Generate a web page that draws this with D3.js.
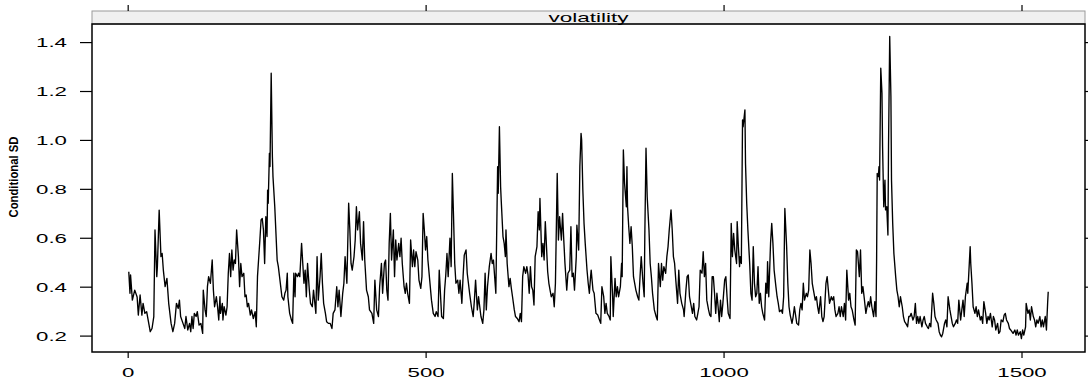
<!DOCTYPE html>
<html>
<head>
<meta charset="utf-8">
<script src="https://cdn.jsdelivr.net/npm/d3@7"></script>
<style>
  body { margin: 0; background: #fff; }
  text { font-family: "Liberation Sans", Arial, Helvetica, sans-serif; fill: #000; }
</style>
</head>
<body>
<div id="chart"></div>
<script>
var obs = [1,3,4,7,11,15,17,20,23,25,28,31,34,37,40,43,45,48,49,52,55,57,59,62,65,68,72,75,78,81,84,86,88,92,95,97,100,103,105,107,109,111,114,116,119,122,125,126,129,131,133,135,138,141,143,145,148,150,152,154,155,158,159,161,164,166,168,170,172,174,176,178,180,182,185,187,189,191,194,196,198,200,202,205,207,210,213,215,217,219,221,223,225,227,229,231,233,234,235,237,238,240,242,243,246,248,250,252,254,256,258,261,263,265,267,268,271,274,276,278,280,281,284,286,288,291,293,295,297,299,301,304,306,309,311,
  315,317,319,322,324,326,328,331,333,336,339,342,344,347,350,352,354,357,360,362,364,367,370,372,374,376,379,381,383,385,388,390,393,395,397,400,403,405,409,412,414,417,420,422,425,427,430,432,434,436,438,440,442,445,447,449,451,454,456,458,460,463,465,467,469,472,474,477,479,481,483,486,488,491,493,495,497,499,501,503,506,509,512,515,517,520,522,524,526,529,531,533,535,537,540,542,544,546,548,550,553,555,557,560,562,564,567,569,571,573,576,579,581,583,586,588,590,592,595,597,599,601,603,606,609,611,613,
  617,620,621,623,625,626,629,631,633,634,636,639,641,643,645,648,650,653,656,658,660,662,664,667,669,671,673,675,677,679,681,683,686,688,690,691,694,696,698,700,702,704,706,708,710,713,715,717,720,722,724,727,729,731,733,736,738,741,743,745,747,749,752,753,756,758,760,761,763,765,767,770,772,774,776,777,780,782,785,788,790,793,795,798,800,802,804,807,809,810,813,814,817,819,821,823,826,828,829,831,833,836,837,838,840,842,844,846,848,850,852,855,857,859,861,864,866,867,869,871,874,876,878,880,883,886,888,890,893,895,897,899,902,904,906,908,911,913,915,917,919,922,924,926,929,932,
  933,936,938,940,942,945,947,949,951,954,956,958,960,963,965,967,969,971,974,976,978,980,982,984,986,988,990,992,994,996,998,1001,1003,1005,1007,1010,1012,1014,1016,1018,1021,1022,1024,1026,1027,1029,1031,1032,1035,1036,1038,1040,1043,1045,1047,1049,1051,1053,1055,1057,1059,1061,1063,1065,1068,1070,1072,1073,1075,1078,1080,1082,1084,1087,1089,1091,1093,1096,1098,1100,1102,1105,1107,1109,1111,1114,1116,1118,1120,1122,1125,1127,1129,1131,1133,1135,1138,1140,1142,1144,1146,1148,1150,1153,1155,1157,1159,1162,1164,1166,1168,1171,1173,1175,1177,1180,1182,1184,1186,1188,1191,1193,1195,1197,1200,1202,1204,1206,1209,1211,1213,1215,1218,1220,1222,1224,1227,1229,1231,1233,1235,1238,1240,1242,
  1244,1246,1248,1251,1253,1255,1256,1257,1259,1260,1261,1263,1265,1266,1268,1270,1271,1273,1275,1276,1278,1280,1281,1283,1285,1288,1290,1292,1294,1296,1299,1301,1303,1305,1308,1310,1312,1314,1317,1319,1321,1323,1325,1327,1329,1332,1334,1336,1338,1341,1343,1345,1347,1350,1352,1354,1356,1359,1361,1363,1365,1367,1370,1372,1374,1376,1379,1381,1383,1385,1388,1390,1392,1394,1397,1399,1401,1403,1405,1408,1409,1411,1413,1414,1416,1418,1421,1423,1425,1427,1430,1432,1434,1436,1439,1441,1443,1445,1447,1450,1452,1454,1456,1459,1461,1463,1465,1468,1470,1472,1474,1477,1479,1481,1483,1485,1488,1490,1492,1494,1497,1499,1501,1503,1506,1507,1510,1512,1514,1516,1519,1521,1523,1525,1527,1530,1532,1534,1536,1539,1541,1543,1544];

var condSD = [0.463,0.375,0.45,0.347,0.388,0.36,0.286,0.368,0.286,0.334,0.293,0.30,0.259,0.218,0.231,0.28,0.634,0.443,0.484,0.715,0.525,0.538,0.47,0.402,0.436,0.334,0.252,0.218,0.252,0.334,0.313,0.347,0.28,0.252,0.231,0.28,0.225,0.252,0.218,0.28,0.231,0.293,0.28,0.30,0.245,0.252,0.211,0.388,0.307,0.28,0.402,0.443,0.416,0.511,0.388,0.32,0.361,0.32,0.266,0.361,0.293,0.334,0.266,0.32,0.286,0.32,0.457,0.538,0.443,0.552,0.47,0.511,0.497,0.634,0.525,0.402,0.497,0.443,0.457,0.361,0.368,0.32,0.334,0.286,0.307,0.272,0.30,0.238,0.443,0.518,0.593,0.675,0.681,0.634,0.497,0.688,0.607,0.797,0.743,0.947,0.893,1.275,0.934,0.852,0.729,0.62,0.511,0.484,0.443,0.402,0.361,0.347,0.375,0.388,0.457,0.361,0.293,0.266,0.252,0.457,0.361,0.457,0.443,0.457,0.443,0.579,0.497,0.416,0.47,0.361,0.497,0.388,0.334,0.32,0.388,
  0.293,0.525,0.347,0.443,0.538,0.416,0.334,0.293,0.259,0.252,0.252,0.231,0.293,0.307,0.402,0.32,0.388,0.28,0.375,0.416,0.525,0.416,0.743,0.634,0.497,0.47,0.525,0.593,0.729,0.634,0.709,0.579,0.511,0.668,0.511,0.388,0.361,0.307,0.293,0.252,0.429,0.307,0.28,0.402,0.497,0.375,0.497,0.511,0.388,0.347,0.579,0.702,0.511,0.634,0.443,0.593,0.511,0.579,0.525,0.60,0.497,0.402,0.375,0.416,0.375,0.334,0.593,0.484,0.552,0.484,0.545,0.511,0.429,0.395,0.443,0.702,0.634,0.552,0.607,0.511,0.429,0.347,0.293,0.28,0.30,0.28,0.47,0.375,0.28,0.272,0.388,0.45,0.538,0.443,0.60,0.484,0.865,0.688,0.497,0.416,0.429,0.375,0.429,0.334,0.443,0.531,0.552,0.457,0.416,0.375,0.32,0.28,0.347,0.429,0.307,0.361,0.32,0.28,0.252,0.307,0.457,0.307,0.402,0.484,0.538,0.497,0.511,
  0.375,0.893,0.784,1.056,0.811,0.756,0.607,0.579,0.525,0.634,0.497,0.402,0.436,0.395,0.361,0.307,0.28,0.272,0.259,0.293,0.259,0.443,0.484,0.457,0.484,0.45,0.375,0.484,0.402,0.388,0.327,0.525,0.566,0.709,0.634,0.763,0.525,0.579,0.511,0.668,0.566,0.463,0.416,0.388,0.361,0.375,0.32,0.416,0.865,0.593,0.688,0.593,0.702,0.593,0.497,0.388,0.457,0.47,0.647,0.443,0.457,0.388,0.525,0.654,0.552,0.893,1.029,1.002,0.797,0.661,0.579,0.47,0.416,0.375,0.443,0.47,0.388,0.375,0.293,0.286,0.272,0.252,0.402,0.361,0.293,0.334,0.293,0.28,0.266,0.525,0.361,0.28,0.436,0.361,0.402,0.361,0.402,0.497,0.443,0.961,0.825,0.729,0.893,0.729,0.647,0.579,0.647,0.566,0.443,0.416,0.388,0.361,0.347,0.443,0.525,0.416,0.361,0.607,0.968,0.77,0.634,0.497,0.443,0.375,0.307,0.28,0.266,0.497,0.402,0.497,0.429,0.484,0.457,0.525,0.566,0.634,0.716,0.634,0.525,0.497,0.429,0.334,0.47,0.375,0.334,0.307,
  0.28,0.388,0.443,0.45,0.361,0.32,0.293,0.334,0.28,0.266,0.293,0.32,0.47,0.457,0.545,0.443,0.497,0.347,0.307,0.286,0.28,0.443,0.443,0.375,0.293,0.375,0.32,0.259,0.347,0.28,0.334,0.429,0.443,0.361,0.293,0.272,0.661,0.525,0.62,0.552,0.497,0.668,0.566,0.484,0.525,0.497,1.084,1.056,1.125,0.906,0.743,0.634,0.497,0.375,0.347,0.566,0.416,0.361,0.375,0.484,0.334,0.375,0.32,0.293,0.266,0.416,0.375,0.504,0.361,0.579,0.661,0.579,0.47,0.402,0.361,0.334,0.30,0.307,0.293,0.361,0.722,0.566,0.416,0.32,0.286,0.252,0.28,0.32,0.286,0.252,0.245,0.307,0.334,0.307,0.416,0.347,0.375,0.361,0.388,0.552,0.497,0.416,0.388,0.347,0.361,0.32,0.293,0.361,0.28,0.259,0.28,0.416,0.443,0.388,0.334,0.361,0.347,0.361,0.307,0.28,0.293,0.32,0.28,0.32,0.28,0.334,0.266,0.47,0.347,0.375,0.32,0.307,0.266,0.245,0.552,0.545,0.443,0.552,0.375,0.402,0.361,0.293,0.32,0.341,
  0.32,0.361,0.32,0.28,0.341,0.28,0.511,0.865,0.852,0.893,0.838,1.295,1.193,0.975,0.729,0.838,0.716,0.729,0.613,0.975,1.425,1.18,0.838,0.661,0.538,0.443,0.388,0.361,0.32,0.361,0.32,0.28,0.259,0.252,0.238,0.28,0.28,0.293,0.266,0.28,0.334,0.252,0.28,0.252,0.28,0.238,0.266,0.28,0.252,0.238,0.231,0.252,0.238,0.375,0.334,0.28,0.266,0.252,0.218,0.204,0.197,0.211,0.252,0.266,0.238,0.361,0.307,0.28,0.252,0.238,0.252,0.266,0.252,0.347,0.266,0.307,0.347,0.28,0.361,0.416,0.375,0.47,0.566,0.497,0.416,0.32,0.293,0.32,0.28,0.307,0.266,0.28,0.252,0.341,0.293,0.252,0.28,0.266,0.293,0.238,0.28,0.266,0.225,0.252,0.211,0.218,0.266,0.259,0.286,0.293,0.266,0.252,0.231,0.225,0.218,0.211,0.225,0.204,0.225,0.204,0.218,0.19,0.225,0.204,0.238,0.334,0.293,0.307,0.266,0.32,0.28,0.266,0.238,0.266,0.252,0.28,0.238,0.266,0.238,0.28,0.225,0.334,0.381];

var xTicks = [0, 500, 1000, 1500];
var yTicks = [0.2, 0.4, 0.6, 0.8, 1.0, 1.2, 1.4];
var stripLabel = "volatility";
var yLabel = "Conditional SD";

function draw() {
  var width = 1088, height = 381;
  var pLeft = 92, pRight = 1085, pTop = 24, pBottom = 352, stripTop = 11;
  var stretch = 1.78; // labels in the original are wide

  var series = obs.map(function (d, i) { return { t: d, v: condSD[i] }; });

  var svg = d3.select("#chart").append("svg")
    .attr("width", width)
    .attr("height", height);

  // 4% padding like lattice
  var xExt = d3.extent(obs);
  var xPad = (xExt[1] - xExt[0]) * 0.04;
  var x = d3.scaleLinear().domain([xExt[0] - xPad, xExt[1] + xPad]).range([pLeft, pRight]);
  var y = d3.scaleLinear().domain([0.135, 1.476]).range([pBottom, pTop]);

  // strip
  svg.append("rect")
    .attr("x", pLeft).attr("y", stripTop)
    .attr("width", pRight - pLeft).attr("height", pTop - stripTop)
    .attr("fill", "#f0f0f0")
    .attr("stroke", "#9a9a9a")
    .attr("stroke-width", 1);
  svg.append("text")
    .attr("transform", "translate(" + (pLeft + pRight) / 2 + "," + (pTop - 2.5) + ") scale(1.8,1)")
    .attr("text-anchor", "middle")
    .style("font-size", "12.5px")
    .text(stripLabel);

  // line
  var line = d3.line()
    .x(function (d) { return x(d.t); })
    .y(function (d) { return y(d.v); });

  svg.append("path")
    .datum(series)
    .attr("fill", "none")
    .attr("stroke", "#000")
    .attr("stroke-width", 1.35)
    .attr("stroke-linejoin", "round")
    .attr("d", line);

  // panel box
  svg.append("rect")
    .attr("x", pLeft).attr("y", pTop)
    .attr("width", pRight - pLeft).attr("height", pBottom - pTop)
    .attr("fill", "none")
    .attr("stroke", "#000")
    .attr("stroke-width", 1.5);

  // bottom axis
  var xb = svg.append("g").attr("transform", "translate(0," + pBottom + ")");
  xb.selectAll("line").data(xTicks).enter().append("line")
    .attr("x1", x).attr("x2", x)
    .attr("y1", 0).attr("y2", 6)
    .attr("stroke", "#000").attr("stroke-width", 1.2);
  xb.selectAll("text").data(xTicks).enter().append("text")
    .attr("transform", function (d) { return "translate(" + x(d) + ",25) scale(" + stretch + ",1)"; })
    .attr("text-anchor", "middle")
    .style("font-size", "12.5px")
    .text(function (d) { return d; });

  // top ticks (no labels)
  svg.append("g").selectAll("line").data(xTicks).enter().append("line")
    .attr("x1", x).attr("x2", x)
    .attr("y1", stripTop - 6).attr("y2", stripTop)
    .attr("stroke", "#000").attr("stroke-width", 1.2);

  // left axis
  var yl = svg.append("g");
  yl.selectAll("line").data(yTicks).enter().append("line")
    .attr("x1", pLeft - 12).attr("x2", pLeft)
    .attr("y1", y).attr("y2", y)
    .attr("stroke", "#000").attr("stroke-width", 1.2);
  yl.selectAll("text").data(yTicks).enter().append("text")
    .attr("transform", function (d) { return "translate(67," + (y(d) + 4.5) + ") scale(" + stretch + ",1)"; })
    .attr("text-anchor", "end")
    .style("font-size", "12.5px")
    .text(function (d) { return d.toFixed(1); });

  // right ticks
  svg.append("g").selectAll("line").data(yTicks).enter().append("line")
    .attr("x1", pRight).attr("x2", pRight + 12)
    .attr("y1", y).attr("y2", y)
    .attr("stroke", "#000").attr("stroke-width", 1.2);

  // y label (squashed like the original)
  svg.append("text")
    .attr("transform", "translate(18,177) rotate(-90)")
    .attr("text-anchor", "middle")
    .attr("textLength", 81)
    .attr("lengthAdjust", "spacingAndGlyphs")
    .style("font-size", "12px")
    .style("font-weight", "bold")
    .text(yLabel);
}

draw();
</script>
</body>
</html>
